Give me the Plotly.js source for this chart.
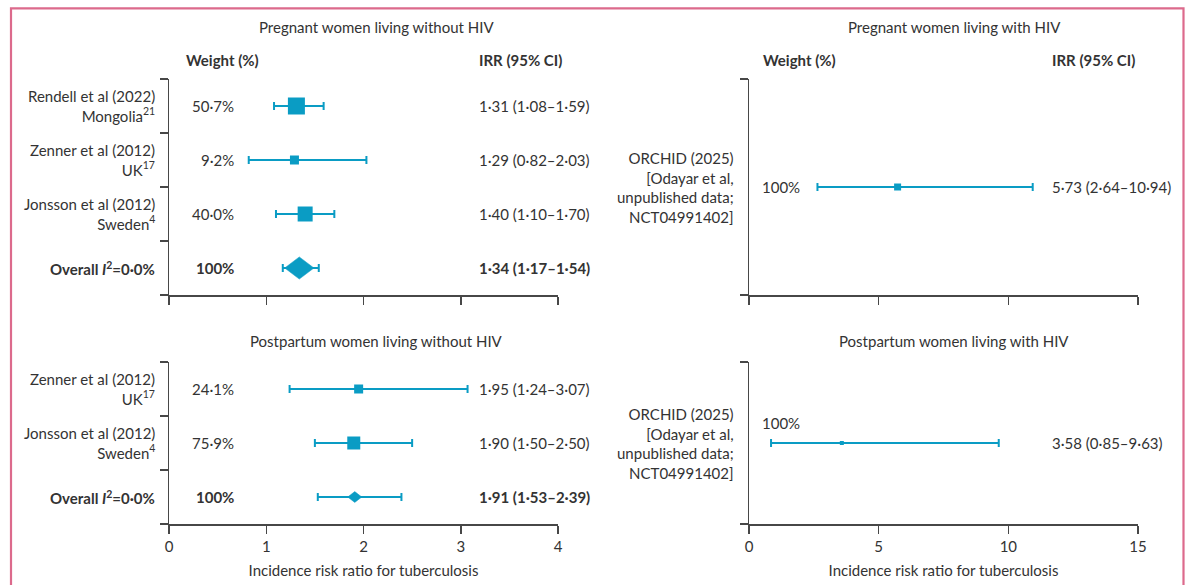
<!DOCTYPE html>
<html>
<head>
<meta charset="utf-8">
<script src="https://cdn.plot.ly/plotly-3.0.1.min.js"></script>
<style>html,body{margin:0;padding:0;background:#fff;}#chart{width:1186px;height:585px;}</style>
</head>
<body>
<div id="chart"></div>
<script>
// ---------- DATA ----------
// Panel A: Pregnant women living without HIV
const pregNoHivStudies = ['Rendell et al (2022)<br>Mongolia<sup>21</sup>', 'Zenner et al (2012)<br>UK<sup>17</sup>', 'Jonsson et al (2012)<br>Sweden<sup>4</sup>', 'Overall <i>I</i><sup>2</sup>=0·0%'];
const pregNoHivWeight = [50.7, 9.2, 40.0, 100];
const pregNoHivIRR = [1.31, 1.29, 1.40, 1.34];
const pregNoHivLow = [1.08, 0.82, 1.10, 1.17];
const pregNoHivHigh = [1.59, 2.03, 1.70, 1.54];
const pregNoHivOverall = [false, false, false, true];

// Panel B: Pregnant women living with HIV
const pregHivStudies = ['ORCHID (2025)<br>[Odayar et al,<br>unpublished data;<br>NCT04991402]'];
const pregHivWeight = [100];
const pregHivIRR = [5.73];
const pregHivLow = [2.64];
const pregHivHigh = [10.94];
const pregHivOverall = [false];

// Panel C: Postpartum women living without HIV
const postNoHivStudies = ['Zenner et al (2012)<br>UK<sup>17</sup>', 'Jonsson et al (2012)<br>Sweden<sup>4</sup>', 'Overall <i>I</i><sup>2</sup>=0·0%'];
const postNoHivWeight = [24.1, 75.9, 100];
const postNoHivIRR = [1.95, 1.90, 1.91];
const postNoHivLow = [1.24, 1.50, 1.53];
const postNoHivHigh = [3.07, 2.50, 2.39];
const postNoHivOverall = [false, false, true];

// Panel D: Postpartum women living with HIV
const postHivStudies = ['ORCHID (2025)<br>[Odayar et al,<br>unpublished data;<br>NCT04991402]'];
const postHivWeight = [100];
const postHivIRR = [3.58];
const postHivLow = [0.85];
const postHivHigh = [9.63];
const postHivOverall = [false];

const panelTitles = ['Pregnant women living without HIV', 'Pregnant women living with HIV', 'Postpartum women living without HIV', 'Postpartum women living with HIV'];
const xTicksLeft = [0, 1, 2, 3, 4];
const xTicksRight = [0, 5, 10, 15];
const xAxisTitle = 'Incidence risk ratio for tuberculosis';
const weightHeader = 'Weight (%)';
const irrHeader = 'IRR (95% CI)';

// ---------- STYLE / LAYOUT ----------
const W = 1186, H = 585;
const px = x => x / W;
const py = y => 1 - y / H;
const FONT = 'Lato, "Liberation Sans", Arial, sans-serif';
const TXT = '#333333';
const TEAL = '#0a9cc4';
const AX = '#474747';
const FS = 15;

const fmt = v => v.toFixed(2).replace('.', '·');
const fmtW = w => (w === 100 ? '100%' : w.toFixed(1).replace('.', '·') + '%');

const panels = [
  {studies: pregNoHivStudies, weight: pregNoHivWeight, irr: pregNoHivIRR, lo: pregNoHivLow, hi: pregNoHivHigh, overall: pregNoHivOverall,
   xa: 'x', ya: 'y', sizes: [17, 9, 15], diamondHalfX: 0.15, diamondHalfY: 0.205,
   labelX: 157, weightX: 236, weightAnchor: 'right', weightShift: 0, irrX: 477, title: panelTitles[0], titleX: 376, titleY: 27, headers: true, headW: 184, headI: 477},
  {studies: pregHivStudies, weight: pregHivWeight, irr: pregHivIRR, lo: pregHivLow, hi: pregHivHigh, overall: pregHivOverall,
   xa: 'x2', ya: 'y2', sizes: [7], diamondHalfX: 0, diamondHalfY: 0,
   labelX: 736, weightX: 760, weightAnchor: 'left', weightShift: 0, irrX: 1050, title: panelTitles[1], titleX: 954, titleY: 27, headers: true, headW: 761, headI: 1050},
  {studies: postNoHivStudies, weight: postNoHivWeight, irr: postNoHivIRR, lo: postNoHivLow, hi: postNoHivHigh, overall: postNoHivOverall,
   xa: 'x3', ya: 'y3', sizes: [9, 13], diamondHalfX: 0.072, diamondHalfY: 0.1,
   labelX: 157, weightX: 236, weightAnchor: 'right', weightShift: 0, irrX: 477, title: panelTitles[2], titleX: 376, titleY: 341, headers: false},
  {studies: postHivStudies, weight: postHivWeight, irr: postHivIRR, lo: postHivLow, hi: postHivHigh, overall: postHivOverall,
   xa: 'x4', ya: 'y4', sizes: [4], diamondHalfX: 0, diamondHalfY: 0,
   labelX: 736, weightX: 760, weightAnchor: 'left', weightShift: 20, irrX: 1050, title: panelTitles[3], titleX: 954, titleY: 341, headers: false}
];

const traces = [];
const annotations = [];

panels.forEach(p => {
  const n = p.studies.length;
  const rows = p.studies.map((_, i) => n - i - 0.5);
  // CI whiskers + squares
  traces.push({
    type: 'scatter', mode: 'markers', xaxis: p.xa, yaxis: p.ya,
    x: p.irr, y: rows,
    marker: {symbol: 'square', color: TEAL, opacity: 1, size: p.irr.map((_, i) => p.overall[i] ? 0 : p.sizes[i]), line: {width: 0}},
    error_x: {type: 'data', symmetric: false,
      array: p.hi.map((h, i) => h - p.irr[i]),
      arrayminus: p.lo.map((l, i) => p.irr[i] - l),
      color: TEAL, thickness: 2, width: 4},
    hoverinfo: 'skip', showlegend: false, cliponaxis: false
  });
  // Diamonds for pooled estimates
  p.overall.forEach((ov, i) => {
    if (!ov) return;
    const e = p.irr[i], r = rows[i];
    traces.push({
      type: 'scatter', mode: 'lines', xaxis: p.xa, yaxis: p.ya,
      x: [e - p.diamondHalfX, e, e + p.diamondHalfX, e, e - p.diamondHalfX],
      y: [r, r + p.diamondHalfY, r, r - p.diamondHalfY, r],
      fill: 'toself', fillcolor: TEAL, line: {color: TEAL, width: 0.5},
      hoverinfo: 'skip', showlegend: false
    });
  });
  // Texts
  annotations.push({xref: 'paper', yref: 'paper', x: px(p.titleX), y: py(p.titleY), xanchor: 'center', yanchor: 'middle',
    text: p.title, showarrow: false, font: {family: FONT, size: FS, color: TXT}});
  if (p.headers) {
    annotations.push({xref: 'paper', yref: 'paper', x: px(p.headW), y: py(60), xanchor: 'left', yanchor: 'middle',
      text: '<b>' + weightHeader + '</b>', showarrow: false, font: {family: FONT, size: FS, color: TXT}});
    annotations.push({xref: 'paper', yref: 'paper', x: px(p.headI), y: py(60), xanchor: 'left', yanchor: 'middle',
      text: '<b>' + irrHeader + '</b>', showarrow: false, font: {family: FONT, size: FS, color: TXT}});
  }
  p.studies.forEach((s, i) => {
    const b = t => p.overall[i] ? '<b>' + t + '</b>' : t;
    annotations.push({xref: 'paper', yref: p.ya, x: px(p.labelX), y: rows[i], xanchor: 'right', yanchor: 'middle', align: 'right',
      text: b(s), showarrow: false, font: {family: FONT, size: FS, color: TXT}});
    annotations.push({xref: 'paper', yref: p.ya, x: px(p.weightX), y: rows[i], xanchor: p.weightAnchor, yanchor: 'middle', yshift: p.weightShift,
      text: b(fmtW(p.weight[i])), showarrow: false, font: {family: FONT, size: FS, color: TXT}});
    annotations.push({xref: 'paper', yref: p.ya, x: px(p.irrX), y: rows[i], xanchor: 'left', yanchor: 'middle',
      text: b(fmt(p.irr[i]) + ' (' + fmt(p.lo[i]) + '–' + fmt(p.hi[i]) + ')'), showarrow: false, font: {family: FONT, size: FS, color: TXT}});
  });
});

const xBase = (domain, range, ticks, anchor, labels) => {
  const ax = {
    domain, range, anchor, tickvals: ticks,
    ticks: 'outside', ticklen: 8, tickwidth: 1.5, tickcolor: AX,
    showline: true, linecolor: AX, linewidth: 1.5, showgrid: false, zeroline: false,
    showticklabels: labels, tickfont: {family: FONT, size: FS, color: TXT},
    fixedrange: true, automargin: false
  };
  if (labels) ax.title = {text: xAxisTitle, font: {family: FONT, size: FS, color: TXT}, standoff: 12};
  return ax;
};
const yBase = (domain, n, anchor) => ({
  domain, range: [0, n], anchor, tickvals: Array.from({length: n + 1}, (_, k) => k),
  ticks: 'outside', ticklen: 8, tickwidth: 1.5, tickcolor: AX,
  showline: true, linecolor: AX, linewidth: 1.5, showgrid: false, zeroline: false,
  showticklabels: false, fixedrange: true, automargin: false
});

const dLeft = [px(169), px(558)];
const dRight = [px(749), px(1138)];
const dTop = [py(295), py(79)];
const dBot = [py(524), py(362)];

const layout = {
  width: W, height: H,
  margin: {l: 0, r: 0, t: 0, b: 0, pad: 0},
  paper_bgcolor: '#ffffff', plot_bgcolor: 'rgba(0,0,0,0)',
  font: {family: FONT, size: FS, color: TXT},
  showlegend: false,
  xaxis: xBase(dLeft, [0, 4], xTicksLeft, 'y', false),
  yaxis: yBase(dTop, pregNoHivStudies.length, 'x'),
  xaxis2: xBase(dRight, [0, 15], xTicksRight, 'y2', false),
  yaxis2: yBase(dTop, pregHivStudies.length, 'x2'),
  xaxis3: xBase(dLeft, [0, 4], xTicksLeft, 'y3', true),
  yaxis3: yBase(dBot, postNoHivStudies.length, 'x3'),
  xaxis4: xBase(dRight, [0, 15], xTicksRight, 'y4', true),
  yaxis4: yBase(dBot, postHivStudies.length, 'x4'),
  annotations,
  shapes: [{type: 'rect', xref: 'paper', yref: 'paper', x0: px(11), x1: px(1183.5), y0: -0.05, y1: py(8.3),
    line: {color: '#dc6a8c', width: 2.2}, fillcolor: 'rgba(0,0,0,0)', layer: 'below'}]
};

Plotly.newPlot('chart', traces, layout, {displayModeBar: false, staticPlot: true});
</script>
</body>
</html>
